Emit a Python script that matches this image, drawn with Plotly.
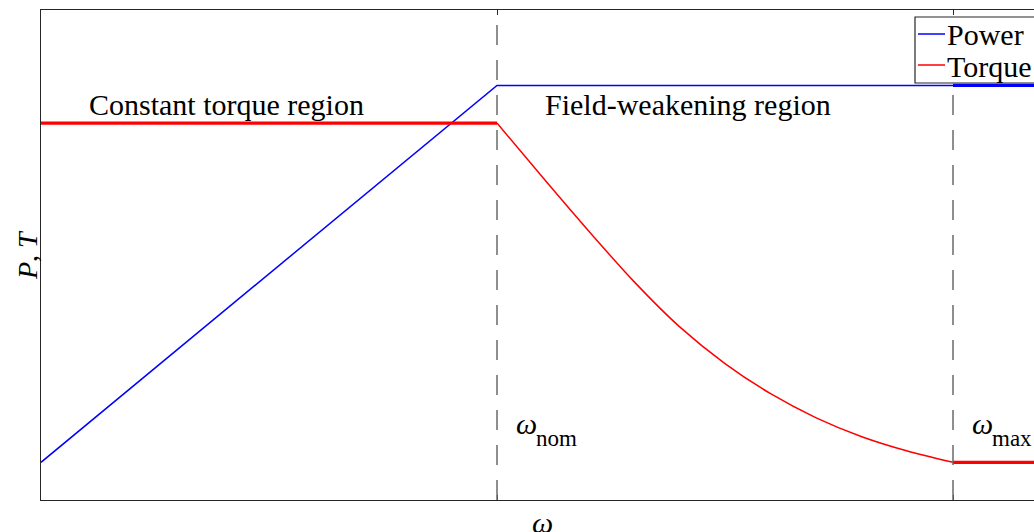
import plotly.graph_objects as go

# Speed axis (per-unit of nominal speed)
omega_nom = 1.0
omega_max = 2.0
omega_end = 2.2

# Power characteristic
power_omega = [0.0, 1.0, 2.0]
power_vals = [0.0, 1.0, 1.0]
power_tail_omega = [2.0, 2.2]
power_tail_vals = [1.0, 1.0]

# Torque characteristic
torque_ct_omega = [0.0, 1.0]
torque_ct_vals = [0.9, 0.9]
torque_fw_omega = [1.0, 1.1, 1.2, 1.3, 1.4, 1.5, 1.6, 1.7, 1.8, 1.9, 2.0]
torque_fw_vals = [0.9, 0.756, 0.615, 0.48, 0.36, 0.262, 0.182, 0.118, 0.068, 0.03, 0.0]
torque_tail_omega = [2.0, 2.2]
torque_tail_vals = [0.0, 0.0]

legend_labels = ["Power", "Torque"]
region_labels = ["Constant torque region", "Field-weakening region"]
speed_subscripts = ["nom", "max"]

BLUE = "#0000ff"
RED = "#ff0000"
FONT = "Times New Roman, Liberation Serif, serif"

W, H = 1034, 532
ML, MT, MB = 41, 10, 32
PX_PER_UNIT = 456.0
x_hi = (W - ML) / PX_PER_UNIT

fig = go.Figure()

def add_line(x, y, color, width, shape="linear"):
    fig.add_trace(go.Scatter(x=x, y=y, mode="lines", showlegend=False,
                             hoverinfo="skip",
                             line=dict(color=color, width=width, shape=shape,
                                       smoothing=0.8 if shape == "spline" else None)))

add_line(power_omega, power_vals, BLUE, 1.5)
add_line(power_tail_omega, power_tail_vals, BLUE, 3.2)
add_line(torque_fw_omega, torque_fw_vals, RED, 1.5, "spline")
add_line(torque_ct_omega, torque_ct_vals, RED, 3.2)
add_line(torque_tail_omega, torque_tail_vals, RED, 3.2)

# Dashed markers at nominal and maximum speed
for w in (omega_nom, omega_max):
    fig.add_shape(type="line", xref="x", yref="paper", x0=w, x1=w, y0=0, y1=1,
                  line=dict(color="#6a6a6a", width=1.5, dash="20px,15px"), layer="above")

# Region captions
fig.add_annotation(x=0.1, y=0.948, xref="x", yref="y", text=region_labels[0],
                   showarrow=False, xanchor="left", yanchor="middle",
                   font=dict(family=FONT, size=30, color="black"))
fig.add_annotation(x=1.1, y=0.948, xref="x", yref="y", text=region_labels[1],
                   showarrow=False, xanchor="left", yanchor="middle",
                   font=dict(family=FONT, size=30, color="black"))

# Speed labels: omega symbol with a lowered subscript
for w, sub in zip((omega_nom, omega_max), speed_subscripts):
    fig.add_annotation(x=w + 0.038, y=0.104, xref="x", yref="y", text="<i>ω</i>",
                       showarrow=False, xanchor="left", yanchor="middle",
                       font=dict(family=FONT, size=30, color="black"))
    fig.add_annotation(x=w + 0.082, y=0.064, xref="x", yref="y", text=sub,
                       showarrow=False, xanchor="left", yanchor="middle",
                       font=dict(family=FONT, size=23, color="black"))

# Axis titles
fig.add_annotation(x=1.1, y=-0.045, xref="x", yref="paper", text="<i>ω</i>",
                   showarrow=False, xanchor="center", yanchor="middle",
                   font=dict(family=FONT, size=30, color="black"))
fig.add_annotation(x=-14 / (W - ML), y=0.5, xref="paper", yref="paper",
                   text="<i>P</i>, <i>T</i>", textangle=-90,
                   showarrow=False, xanchor="center", yanchor="middle",
                   font=dict(family=FONT, size=28, color="black"))

# Legend box
pw = W - ML
ph = H - MT - MB
def px_x(p):
    return (p - ML) / pw
def px_y(p):
    return (H - MB - p) / ph

fig.add_shape(type="rect", xref="paper", yref="paper",
              x0=px_x(915), x1=px_x(1040), y0=px_y(83), y1=px_y(17),
              line=dict(color="#262626", width=1.2), fillcolor="white", layer="above")
for (ypix, color, label) in ((34, BLUE, legend_labels[0]), (65, RED, legend_labels[1])):
    fig.add_shape(type="line", xref="paper", yref="paper",
                  x0=px_x(918), x1=px_x(945), y0=px_y(ypix), y1=px_y(ypix),
                  line=dict(color=color, width=1.5), layer="above")
    fig.add_annotation(x=px_x(945), y=px_y(ypix + 1), xref="paper", yref="paper",
                       text=label, showarrow=False, xanchor="left", yanchor="middle",
                       font=dict(family=FONT, size=30, color="black"))

fig.update_xaxes(range=[0, x_hi], showgrid=False, zeroline=False,
                 showline=True, linecolor="#262626", linewidth=1.3, mirror="ticks",
                 tickvals=[omega_nom, omega_max], ticks="inside", ticklen=5,
                 tickcolor="#262626", showticklabels=False)
fig.update_yaxes(range=[-0.1, 1.2], showgrid=False, zeroline=False,
                 showline=True, linecolor="#262626", linewidth=1.3,
                 ticks="", showticklabels=False)

fig.update_layout(width=W, height=H,
                  margin=dict(l=ML, r=0, t=MT, b=MB, autoexpand=False),
                  paper_bgcolor="white", plot_bgcolor="white",
                  showlegend=False)

fig.write_html("out.html")
